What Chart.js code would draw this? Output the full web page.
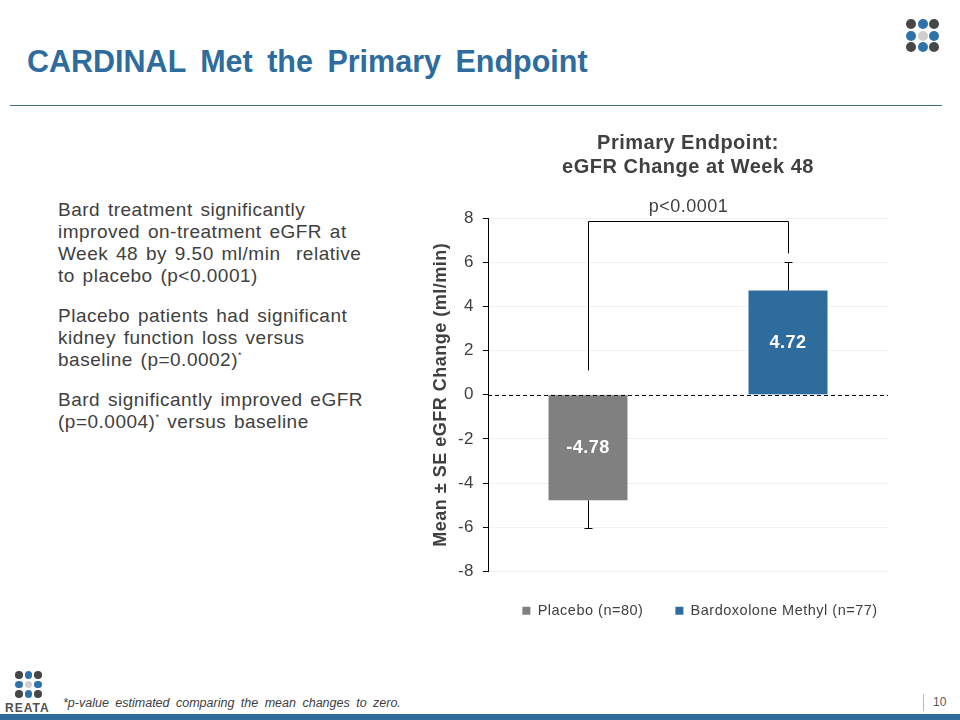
<!DOCTYPE html>
<html>
<head>
<meta charset="utf-8">
<script src="https://cdn.jsdelivr.net/npm/chart.js@4.4.1/dist/chart.umd.min.js"></script>
<style>
  html, body { margin: 0; padding: 0; width: 960px; height: 720px; overflow: hidden; background: #fff; }
  body { position: relative; font-family: "Liberation Sans", Arial, sans-serif; color: #404040; }
  #slideTitle { position: absolute; left: 27px; top: 44px; font-size: 30.5px; font-weight: bold; color: #2E6C9E; white-space: nowrap; word-spacing: 6px; }
  #topRule { position: absolute; left: 10px; top: 105px; width: 932px; height: 1px; background: #3f6f80; }
  .dots { position: absolute; }
  .dots span { position: absolute; border-radius: 50%; }
  #bullets { position: absolute; left: 58px; top: 199px; font-size: 19px; line-height: 22px; word-spacing: 2px; letter-spacing: 0.5px; }
  #bullets p { margin: 0 0 18px 0; }
  #bullets sup { font-size: 9px; vertical-align: baseline; position: relative; top: -0.9em; line-height: 0; }
  #chartBox { position: absolute; left: 420px; top: 118px; }
  #footnote { position: absolute; left: 63px; top: 696px; font-size: 12.5px; font-style: italic; word-spacing: 3px; }
  #reata { position: absolute; left: 5px; top: 701px; font-size: 12px; font-weight: bold; color: #505050; letter-spacing: 1px; }
  #pageSep { position: absolute; left: 923px; top: 694px; width: 1px; height: 17px; background: #a9bccd; }
  #pageNum { position: absolute; left: 933px; top: 695px; font-size: 12px; color: #595959; }
  #bottomBar { position: absolute; left: 0; top: 714px; width: 960px; height: 6px; background: #2E6C9E; }
</style>
</head>
<body>
<div id="slideTitle">CARDINAL Met the Primary Endpoint</div>
<div id="topRule"></div>
<div class="dots" id="logoTop"></div>
<div id="bullets">
  <p>Bard treatment significantly<br>improved on-treatment eGFR at<br>Week 48 by 9.50 ml/min&nbsp; relative<br>to placebo (p&lt;0.0001)</p>
  <p>Placebo patients had significant<br>kidney function loss versus<br>baseline (p=0.0002)<sup>*</sup></p>
  <p>Bard significantly improved eGFR<br>(p=0.0004)<sup>*</sup> versus baseline</p>
</div>
<div id="chartBox"><canvas id="grafico" width="560" height="520"></canvas></div>
<div class="dots" id="logoBottom"></div>
<div id="reata">REATA</div>
<div id="footnote">*p-value estimated comparing the mean changes to zero.</div>
<div id="pageSep"></div>
<div id="pageNum">10</div>
<div id="bottomBar"></div>

<script>
// ============================
// DADOS
// ============================
const grupos = ['Placebo (n=80)', 'Bardoxolone Methyl (n=77)'];
const medias = [-4.78, 4.72];
const fimErro = [-6.05, 6.0];            // mean ± SE end of the whisker
const inicioColchete = [1.1, 6.4];       // where the bracket legs start
const topoColchete = 7.85;
const textoColchete = 'p<0.0001';
const ticksY = [-8, -6, -4, -2, 0, 2, 4, 6, 8];

const cores = ['#808080', '#2E6C9E'];
const cinzaTexto = '#404040';
const fonte = '"Liberation Sans", Arial, sans-serif';

// ============================
// LOGOS (pontinhos)
// ============================
const padraoLogo = ['#474747', '#2E72AA', '#474747',
                    '#2E72AA', '#cfcfcf', '#2E72AA',
                    '#474747', '#2E72AA', '#474747'];

function desenharLogo(id, x, y, passo, diam) {
  const el = document.getElementById(id);
  el.style.left = x + 'px';
  el.style.top = y + 'px';
  padraoLogo.forEach((c, i) => {
    const s = document.createElement('span');
    s.style.left = (i % 3) * passo + 'px';
    s.style.top = Math.floor(i / 3) * passo + 'px';
    s.style.width = diam + 'px';
    s.style.height = diam + 'px';
    s.style.background = c;
    el.appendChild(s);
  });
}
desenharLogo('logoTop', 906, 19, 11.5, 10);
desenharLogo('logoBottom', 15, 671, 9.5, 7.5);

// ============================
// PLUGIN: espaçamento de letras (texto do PowerPoint é mais largo)
// ============================
const espacamento = {
  id: 'espacamento',
  beforeUpdate(chart) { chart.ctx.letterSpacing = '0.5px'; },
  beforeDraw(chart) { chart.ctx.letterSpacing = '0.5px'; }
};

// ============================
// PLUGIN: linha zero, barras de erro, colchete, rótulos
// ============================
const extras = {
  id: 'extras',
  afterDatasetsDraw(chart) {
    const { ctx, chartArea, scales: { x, y } } = chart;
    ctx.save();

    // linha tracejada no zero
    ctx.strokeStyle = '#000';
    ctx.lineWidth = 1;
    ctx.setLineDash([4, 3]);
    const y0 = Math.round(y.getPixelForValue(0)) + 0.5;
    ctx.beginPath();
    ctx.moveTo(chartArea.left, y0);
    ctx.lineTo(chartArea.right, y0);
    ctx.stroke();
    ctx.setLineDash([]);

    // barras de erro
    medias.forEach((m, i) => {
      const cx = Math.round(x.getPixelForValue(i)) + 0.5;
      const yA = y.getPixelForValue(m);
      const yB = Math.round(y.getPixelForValue(fimErro[i])) + 0.5;
      ctx.beginPath();
      ctx.moveTo(cx, yA);
      ctx.lineTo(cx, yB);
      ctx.moveTo(cx - 4, yB);
      ctx.lineTo(cx + 4, yB);
      ctx.stroke();
    });

    // colchete de significância
    const xa = Math.round(x.getPixelForValue(0)) + 0.5;
    const xb = Math.round(x.getPixelForValue(1)) + 0.5;
    const yt = Math.round(y.getPixelForValue(topoColchete)) + 0.5;
    ctx.beginPath();
    ctx.moveTo(xa, y.getPixelForValue(inicioColchete[0]));
    ctx.lineTo(xa, yt);
    ctx.lineTo(xb, yt);
    ctx.lineTo(xb, y.getPixelForValue(inicioColchete[1]));
    ctx.stroke();

    ctx.fillStyle = cinzaTexto;
    ctx.font = '18px ' + fonte;
    ctx.textAlign = 'center';
    ctx.textBaseline = 'middle';
    ctx.fillText(textoColchete, (xa + xb) / 2, yt - 14);

    // rótulos dentro das barras
    ctx.fillStyle = '#fff';
    ctx.font = 'bold 18px ' + fonte;
    medias.forEach((m, i) => {
      ctx.fillText(m.toFixed(2), x.getPixelForValue(i), y.getPixelForValue(m / 2));
    });

    ctx.restore();
  }
};

// ============================
// GRÁFICO
// ============================
const ctx = document.getElementById('grafico').getContext('2d');

new Chart(ctx, {
  type: 'bar',
  data: {
    labels: grupos,
    datasets: grupos.map((g, i) => ({
      label: g,
      data: medias.map((m, j) => (j === i ? m : null)),
      backgroundColor: cores[i],
      borderWidth: 0
    }))
  },
  options: {
    responsive: false,
    animation: false,
    events: [],
    layout: { padding: { left: 0, right: 0, top: 0, bottom: 10 } },
    datasets: { bar: { grouped: false, categoryPercentage: 1, barPercentage: 0.395 } },
    scales: {
      x: { display: false },
      y: {
        min: -8,
        max: 8,
        afterBuildTicks: axis => { axis.ticks = ticksY.map(v => ({ value: v })); },
        afterFit: axis => { axis.width = 68; },
        ticks: {
          color: cinzaTexto,
          padding: 9,
          font: { family: fonte, size: 17 }
        },
        grid: { color: '#f2f2f2', tickColor: '#000', tickLength: 5 },
        border: { color: '#000', width: 1 },
        title: {
          display: true,
          text: 'Mean ± SE eGFR Change (ml/min)',
          color: cinzaTexto,
          padding: { top: 10, bottom: 4 },
          font: { family: fonte, size: 18, weight: 'bold', lineHeight: 1.2 }
        }
      },
      // eixo vazio à direita: só reserva a margem para a legenda ficar centrada como no slide
      margem: {
        position: 'right',
        display: true,
        afterFit: axis => { axis.width = 92; },
        ticks: { display: false },
        grid: { display: false },
        border: { display: false }
      }
    },
    plugins: {
      tooltip: { enabled: false },
      title: {
        display: true,
        fullSize: false,
        text: ['Primary Endpoint:', 'eGFR Change at Week 48'],
        color: cinzaTexto,
        padding: { top: 13, bottom: 39 },
        font: { family: fonte, size: 20, weight: 'bold', lineHeight: 1.2 }
      },
      legend: {
        position: 'bottom',
        labels: {
          color: cinzaTexto,
          boxWidth: 8,
          boxHeight: 8,
          padding: 32,
          font: { family: fonte, size: 14.5 }
        }
      }
    }
  },
  plugins: [espacamento, extras]
});
</script>
</body>
</html>
